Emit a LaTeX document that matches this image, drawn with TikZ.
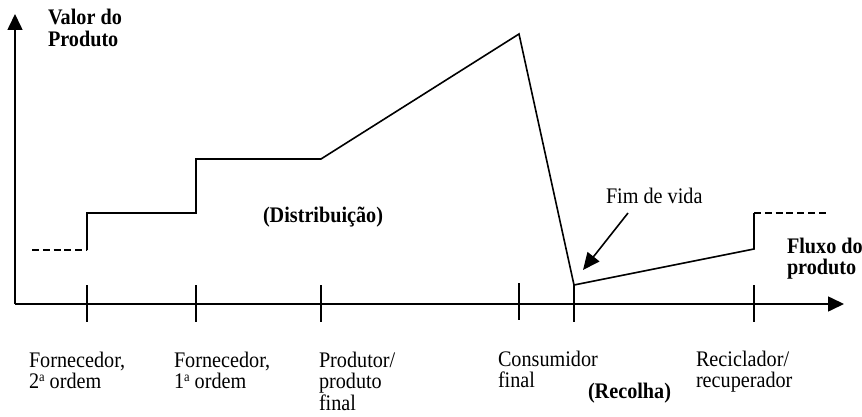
\documentclass[tikz,border=0pt]{standalone}
\usepackage{graphicx}
\usepackage{fontspec}
\setmainfont{Liberation Serif}
\usetikzlibrary{arrows.meta}

% multi-line label, first baseline at the node's base
\newcommand{\lbltext}[1]{\scalebox{1}[1.1]{\fontsize{20.2}{19.1}\selectfont\begin{tabular}[t]{@{}l@{}}#1\end{tabular}}}
% raised ordinal a
\newcommand{\ordA}{\raisebox{6.5pt}{\fontsize{12.5}{12.5}\selectfont a}}

\begin{document}
\begin{tikzpicture}[x=1pt,y=-1pt,
  axisline/.style={line width=1.6pt, -{Triangle[length=16pt,width=15pt]}},
  curveline/.style={line width=1.6pt, line join=miter},
  dashline/.style={line width=1.6pt, dash pattern=on 7pt off 3.8pt},
  tickline/.style={line width=1.4pt},
  lbl/.style={anchor=base west, inner sep=0pt, outer sep=0pt}]

\useasboundingbox (0,0) rectangle (862,417);

% axes
\coordinate (origin) at (15,304);
\coordinate (ytop) at (15,14);
\coordinate (xend) at (844,304);
\draw[axisline] (origin) -- (ytop);
\draw[axisline] (origin) -- (xend);

% ticks on the flow axis
\foreach \n/\x/\a/\b in {t1/87/285/322, t2/196/285/322, t3/321/285/322,
                         t4/519/283/320, t5/574/285/322, t6/754/285/322}{
  \draw[tickline] (\x,\a) -- (\x,\b);
}

% value curve
\coordinate (d0) at (32,250);
\coordinate (p0) at (87,250);
\coordinate (p1) at (87,213);
\coordinate (p2) at (196,213);
\coordinate (p3) at (196,159);
\coordinate (p4) at (321,159);
\coordinate (peak) at (519,34);
\coordinate (low) at (574,285);
\coordinate (p7) at (754,249);
\coordinate (p8) at (754,213);
\coordinate (d9) at (828,213);

\draw[dashline] (d0) -- (p0);
\draw[curveline] (p0) -- (p1) -- (p2) -- (p3) -- (p4) -- (peak) -- (low) -- (p7) -- (p8);
\draw[dashline] (p8) -- (d9);

% end-of-life pointer
\coordinate (fimstart) at (628,213);
\coordinate (fimtip) at (583,270);
\draw[line width=1.6pt, -{Triangle[length=17pt,width=15pt]}] (fimstart) -- (fimtip);

% labels
\node[lbl] (valor) at (48,25) {\lbltext{\textbf{Valor do}\\\textbf{Produto}}};
\node[lbl] (distrib) at (263,222) {\lbltext{\textbf{(Distribuição)}}};
\node[lbl] (fim) at (606,203) {\lbltext{Fim de vida}};
\node[lbl] (fluxo) at (787,253) {\lbltext{\textbf{Fluxo do}\\\textbf{produto}}};

\node[lbl] (f2) at (29,367) {\lbltext{Fornecedor,\\2\ordA{} ordem}};
\node[lbl] (f1) at (174,367) {\lbltext{Fornecedor,\\1\ordA{} ordem}};
\node[lbl] (prod) at (319,367) {\lbltext{Produtor/\\produto\\final}};
\node[lbl] (cons) at (498,366) {\lbltext{Consumidor\\final}};
\node[lbl] (recolha) at (588,398) {\lbltext{\textbf{(Recolha)}}};
\node[lbl] (recic) at (696,366) {\lbltext{Reciclador/\\recuperador}};

\end{tikzpicture}
\end{document}
